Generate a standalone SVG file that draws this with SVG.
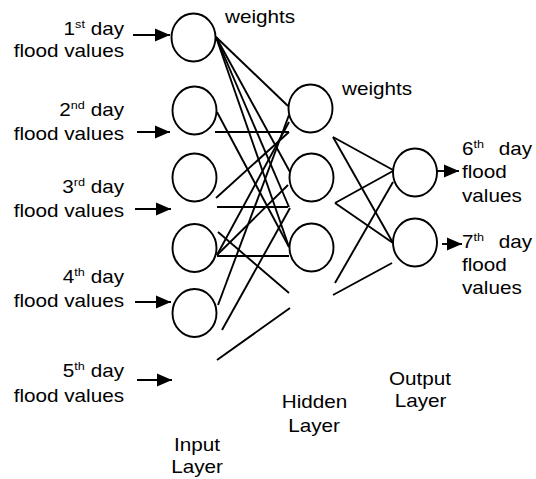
<svg xmlns="http://www.w3.org/2000/svg" width="536" height="479" viewBox="0 0 536 479">
<style>
.n{fill:#fff;stroke:#000;stroke-width:1.9}
.c line{stroke:#000;stroke-width:1.9}
.a{stroke:#000;stroke-width:2;marker-end:url(#ah)}
text{font-family:"Liberation Sans",Arial,sans-serif;font-size:18px;fill:#000}
.s{font-size:11px}
</style>
<defs>
<marker id="ah" markerUnits="userSpaceOnUse" markerWidth="16" markerHeight="14" viewBox="0 -7 16 14" refX="15" refY="0" orient="auto">
<path d="M0,-6.5 L15,0 L0,6.5 Z" fill="#000"/>
</marker>
</defs>
<rect width="536" height="479" fill="#fff"/>
<g class="c" id="connectors">
<line x1="216" y1="37" x2="288" y2="106"/>
<line x1="216" y1="37" x2="290" y2="172"/>
<line x1="216" y1="37" x2="289" y2="207"/>
<line x1="216" y1="37" x2="289" y2="247"/>
<line x1="217" y1="112" x2="289" y2="247"/>
<line x1="215" y1="132" x2="289" y2="132"/>
<line x1="216" y1="198" x2="289" y2="132"/>
<line x1="217" y1="207" x2="288" y2="207"/>
<line x1="217" y1="256" x2="289" y2="256"/>
<line x1="217" y1="255" x2="289" y2="122"/>
<line x1="217" y1="255" x2="288" y2="185"/>
<line x1="218" y1="232" x2="289" y2="293"/>
<line x1="218" y1="305" x2="289" y2="115"/>
<line x1="222" y1="330" x2="290" y2="208"/>
<line x1="217" y1="360" x2="290" y2="308"/>
<line x1="333" y1="137" x2="393" y2="170"/>
<line x1="333" y1="137" x2="393" y2="243"/>
<line x1="335" y1="203" x2="393" y2="171"/>
<line x1="335" y1="203" x2="393" y2="243"/>
<line x1="335" y1="283" x2="393" y2="182"/>
<line x1="333" y1="295" x2="392" y2="263"/>
<line class="a" x1="133" y1="35" x2="170" y2="35"/>
<line class="a" x1="137" y1="132" x2="170" y2="132"/>
<line class="a" x1="135" y1="209" x2="171" y2="209"/>
<line class="a" x1="135" y1="302" x2="171" y2="302"/>
<line class="a" x1="137" y1="380" x2="172" y2="380"/>
<line class="a" x1="437" y1="171" x2="459" y2="171"/>
<line class="a" x1="442" y1="244" x2="462" y2="244"/>
</g>
<g id="in1"><ellipse class="n" cx="193.5" cy="37.5" rx="22" ry="24"/></g>
<g id="in2"><ellipse class="n" cx="194.5" cy="110.5" rx="22" ry="24"/></g>
<g id="in3"><ellipse class="n" cx="194.5" cy="177.5" rx="22" ry="24"/></g>
<g id="in4"><ellipse class="n" cx="194.5" cy="248" rx="22" ry="24"/></g>
<g id="in5"><ellipse class="n" cx="194.5" cy="313" rx="22" ry="24"/></g>
<g id="h1"><ellipse class="n" cx="310.5" cy="108.5" rx="22" ry="24"/></g>
<g id="h2"><ellipse class="n" cx="311.5" cy="177.5" rx="22" ry="24"/></g>
<g id="h3"><ellipse class="n" cx="311.5" cy="247.5" rx="22" ry="24"/></g>
<g id="o1"><ellipse class="n" cx="415" cy="172.5" rx="22" ry="24"/></g>
<g id="o2"><ellipse class="n" cx="415" cy="242.5" rx="22" ry="24"/></g>
<g id="labels">
<text transform="translate(124,35) scale(1.15,1)" text-anchor="end">1<tspan class="s" dy="-7">st</tspan><tspan dy="7"> day</tspan></text>
<text transform="translate(124,57) scale(1.15,1)" text-anchor="end">flood values</text>
<text transform="translate(124,116) scale(1.15,1)" text-anchor="end">2<tspan class="s" dy="-7">nd</tspan><tspan dy="7"> day</tspan></text>
<text transform="translate(124,140) scale(1.15,1)" text-anchor="end">flood values</text>
<text transform="translate(124,193) scale(1.15,1)" text-anchor="end">3<tspan class="s" dy="-7">rd</tspan><tspan dy="7"> day</tspan></text>
<text transform="translate(124,217) scale(1.15,1)" text-anchor="end">flood values</text>
<text transform="translate(124,283) scale(1.15,1)" text-anchor="end">4<tspan class="s" dy="-7">th</tspan><tspan dy="7"> day</tspan></text>
<text transform="translate(124,307) scale(1.15,1)" text-anchor="end">flood values</text>
<text transform="translate(124,377) scale(1.15,1)" text-anchor="end">5<tspan class="s" dy="-7">th</tspan><tspan dy="7"> day</tspan></text>
<text transform="translate(124,402) scale(1.15,1)" text-anchor="end">flood values</text>
<text transform="translate(225,23) scale(1.15,1)">weights</text>
<text transform="translate(342,95) scale(1.15,1)">weights</text>
<text transform="translate(462,155) scale(1.15,1)">6<tspan class="s" dy="-7">th</tspan></text>
<text transform="translate(532,155) scale(1.15,1)" text-anchor="end">day</text>
<text transform="translate(462,178) scale(1.15,1)">flood</text>
<text transform="translate(462,202) scale(1.15,1)">values</text>
<text transform="translate(462,248) scale(1.15,1)">7<tspan class="s" dy="-7">th</tspan></text>
<text transform="translate(532,248) scale(1.15,1)" text-anchor="end">day</text>
<text transform="translate(462,271) scale(1.15,1)">flood</text>
<text transform="translate(462,294) scale(1.15,1)">values</text>
<text transform="translate(197,451) scale(1.15,1)" text-anchor="middle">Input</text>
<text transform="translate(197,473) scale(1.15,1)" text-anchor="middle">Layer</text>
<text transform="translate(314.5,408) scale(1.15,1)" text-anchor="middle">Hidden</text>
<text transform="translate(314,432) scale(1.15,1)" text-anchor="middle">Layer</text>
<text transform="translate(420,385) scale(1.15,1)" text-anchor="middle">Output</text>
<text transform="translate(420.5,407) scale(1.15,1)" text-anchor="middle">Layer</text>
</g>
</svg>
